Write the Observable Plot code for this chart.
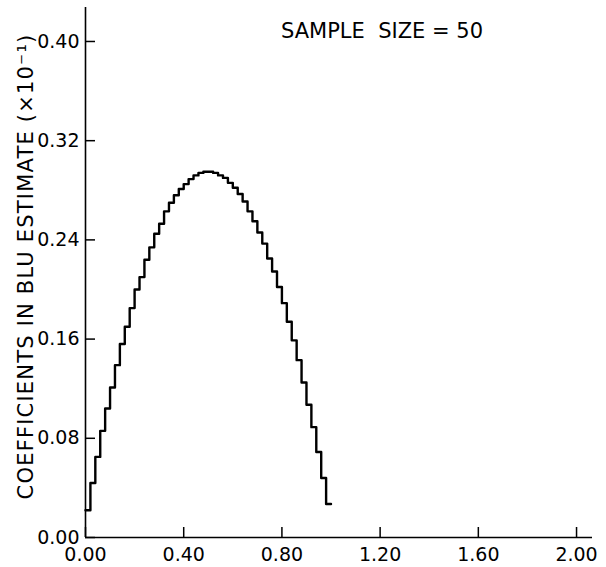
<!DOCTYPE html>
<html><head><meta charset="utf-8">
<script src="https://cdn.jsdelivr.net/npm/d3@7"></script>
<script src="https://cdn.jsdelivr.net/npm/@observablehq/plot@0.6"></script>
<style>body{margin:0;background:#fff} svg{display:block}</style>
</head><body><div id="chart"></div>
<script>
const title = "SAMPLE  SIZE = 50";
const sampleSize = 50;
const coefficients = [
  0.022, 0.044, 0.065, 0.086, 0.104, 0.121, 0.139, 0.156, 0.170, 0.185,
  0.200, 0.210, 0.224, 0.234, 0.245, 0.253, 0.263, 0.270, 0.276, 0.281,
  0.285, 0.289, 0.292, 0.294, 0.295, 0.295, 0.294, 0.292, 0.290, 0.286,
  0.282, 0.277, 0.271, 0.263, 0.255, 0.246, 0.237, 0.225, 0.2145, 0.202,
  0.189, 0.174, 0.159, 0.143, 0.125, 0.107, 0.089, 0.069, 0.048, 0.027
];
const xTicks = [0, 0.4, 0.8, 1.2, 1.6, 2.0];
const yTicks = [0, 0.08, 0.16, 0.24, 0.32, 0.40];
const yLabel = "COEFFICIENTS IN BLU ESTIMATE (×10⁻¹)";

const steps = coefficients.map((c, i) => ({u: i / sampleSize, c}));
steps.push({u: 1, c: coefficients[coefficients.length - 1]});

const fmt = d3.format(".2f");
const chart = Plot.plot({
  width: 606, height: 567,
  marginLeft: 85, marginRight: 14, marginTop: 7, marginBottom: 30,
  style: {fontFamily: "DejaVu Sans, sans-serif", fontSize: "19px", color: "#000", background: "#fff"},
  x: {domain: [0, 2.065], label: null},
  y: {domain: [0, 0.4274], label: null},
  marks: [
    Plot.axisX({ticks: xTicks, tickSize: -10, tickFormat: () => "", strokeWidth: 1.5, label: null}),
    Plot.axisX({ticks: xTicks, tickSize: 0, tickPadding: 10, tickFormat: fmt, label: null}),
    Plot.axisY({ticks: yTicks, tickSize: -10, tickFormat: () => "", strokeWidth: 1.5, label: null}),
    Plot.axisY({ticks: yTicks, tickSize: 0, tickPadding: 6, tickFormat: fmt,
      label: yLabel, labelAnchor: "center", labelArrow: "none", labelOffset: 67}),
    Plot.ruleX([0], {strokeWidth: 1.6, stroke: "#000"}),
    Plot.ruleY([0], {strokeWidth: 1.6, stroke: "#000"}),
    Plot.line(steps, {x: "u", y: "c", curve: "step-after", strokeWidth: 2.4, stroke: "#000"}),
    Plot.text([title], {text: d => d, frameAnchor: "top", dx: 43, dy: 16, lineAnchor: "top", fontSize: 21, ariaLabel: "title"})
  ]
});
document.getElementById("chart").append(chart);
d3.select(chart).selectAll('g[aria-label="y-axis label"] text')
  .style("letter-spacing", "1.2px").style("font-size", "21px").attr("dx", "6");
d3.select(chart).selectAll('g[aria-label="title"] text').style("letter-spacing", "1.5px").style("white-space", "pre");
</script>
</body></html>
